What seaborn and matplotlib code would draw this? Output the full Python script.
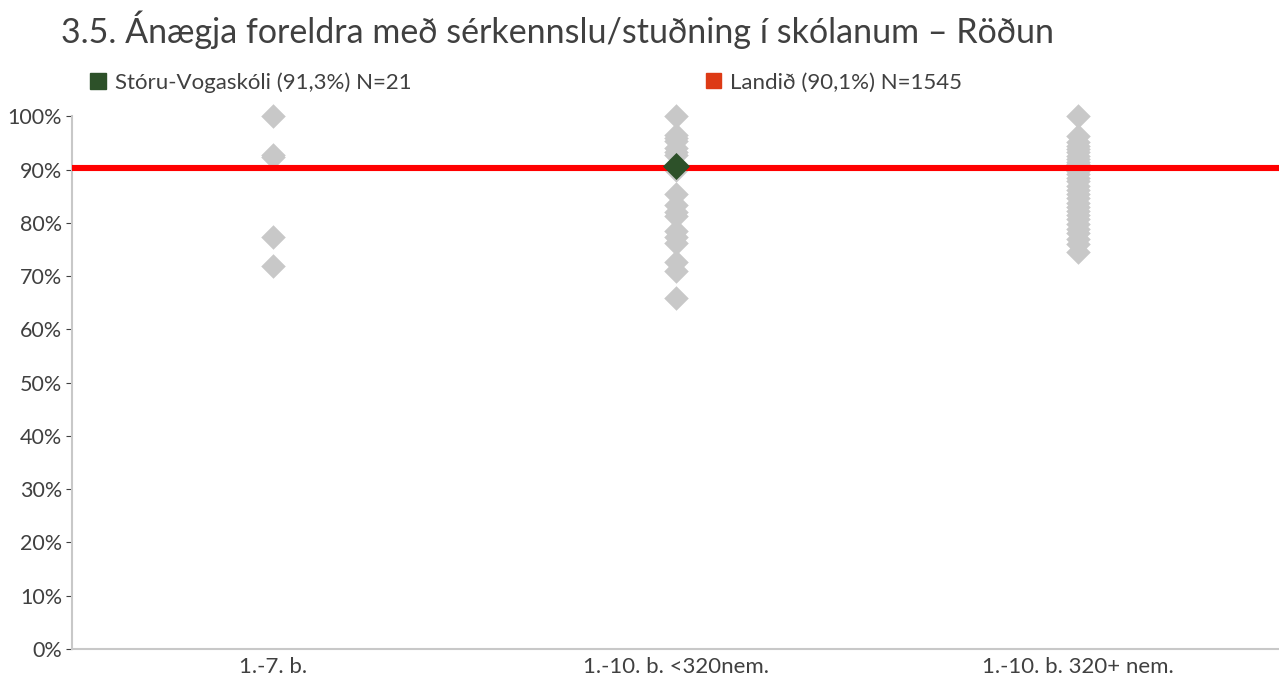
import numpy as np
import pandas as pd
import matplotlib
matplotlib.use("Agg")
import matplotlib.pyplot as plt
import seaborn as sns
from matplotlib.ticker import FuncFormatter
from matplotlib.patches import Patch

# ---- data ----
categories = ["1.-7. b.", "1.-10. b. <320nem.", "1.-10. b. 320+ nem."]
small = [100, 92.7, 92.3, 77.3, 71.8]
mid = [100, 96.5, 95.9, 95.3, 94.0, 93.3, 92.7, 90.0, 85.5, 83.3, 82.0,
       81.3, 78.4, 77.4, 76.2, 72.7, 70.9, 65.8]
large = [100, 96.3, 95.2, 94.5, 93.8, 93.2, 92.6, 92.0, 91.5, 91.0, 90.4,
         89.8, 89.2, 88.5, 87.8, 87.0, 86.2, 85.4, 84.6, 83.8, 83.0, 82.2,
         81.5, 80.7, 79.8, 78.9, 78.0, 77.0, 76.0, 74.6]
school_cat = "1.-10. b. <320nem."
school_val = 90.6
landid_val = 90.3
title = "3.5. Ánægja foreldra með sérkennslu/stuðning í skólanum – Röðun"
leg_school = "Stóru-Vogaskóli (91,3%) N=21"
leg_land = "Landið (90,1%) N=1545"

df = pd.DataFrame({
    "cat": [categories[0]] * len(small) + [categories[1]] * len(mid) + [categories[2]] * len(large),
    "val": small + mid + large,
})

sns.set_style("ticks")
plt.rcParams['font.family'] = ['Lato', 'DejaVu Sans']

fig = plt.figure(figsize=(12.79, 6.76), dpi=100)
ax = fig.add_axes([0.0563, 0.040, 0.9437, 0.788])

sns.stripplot(data=df, x="cat", y="val", order=categories, jitter=False,
              marker="D", s=12.5, color="#C8C8C8", linewidth=0, ax=ax, zorder=2)
for c in ax.collections:
    c.set_clip_on(False)
ax.axhline(landid_val, color="#FF0000", lw=4.4, zorder=3)
sns.scatterplot(x=[school_cat], y=[school_val], marker="D", s=190,
                color="#2D5129", linewidth=0, ax=ax, zorder=4, legend=False)

ax.set_ylim(0, 100)
ax.set_xlim(-0.5, 2.5)
ax.set_yticks(np.arange(0, 101, 10))
ax.yaxis.set_major_formatter(FuncFormatter(lambda v, p: f"{int(v)}%"))
ax.set_xlabel("")
ax.set_ylabel("")
for s in ["top", "right"]:
    ax.spines[s].set_visible(False)
for s in ["left", "bottom"]:
    ax.spines[s].set_color("#C8C8C8")
    ax.spines[s].set_linewidth(1.5)
ax.tick_params(axis="y", length=4, color="#404040", labelsize=15.5, labelcolor="#404040", pad=3)
ax.tick_params(axis="x", length=0, labelsize=16, labelcolor="#404040", pad=6)

fig.text(0.048, 0.928, title, fontsize=24.5, color="#404040", va="bottom")

leg1 = fig.legend(handles=[Patch(color="#2D5129", label=leg_school)], loc="center left",
                  bbox_to_anchor=(0.055, 0.878), frameon=False, fontsize=16,
                  handlelength=0.7, handleheight=0.7, handletextpad=0.4, labelcolor="#404040")
leg2 = fig.legend(handles=[Patch(color="#DD3A15", label=leg_land)], loc="center left",
                  bbox_to_anchor=(0.536, 0.878), frameon=False, fontsize=16,
                  handlelength=0.7, handleheight=0.7, handletextpad=0.4, labelcolor="#404040")

fig.savefig("out.png", dpi=100)
